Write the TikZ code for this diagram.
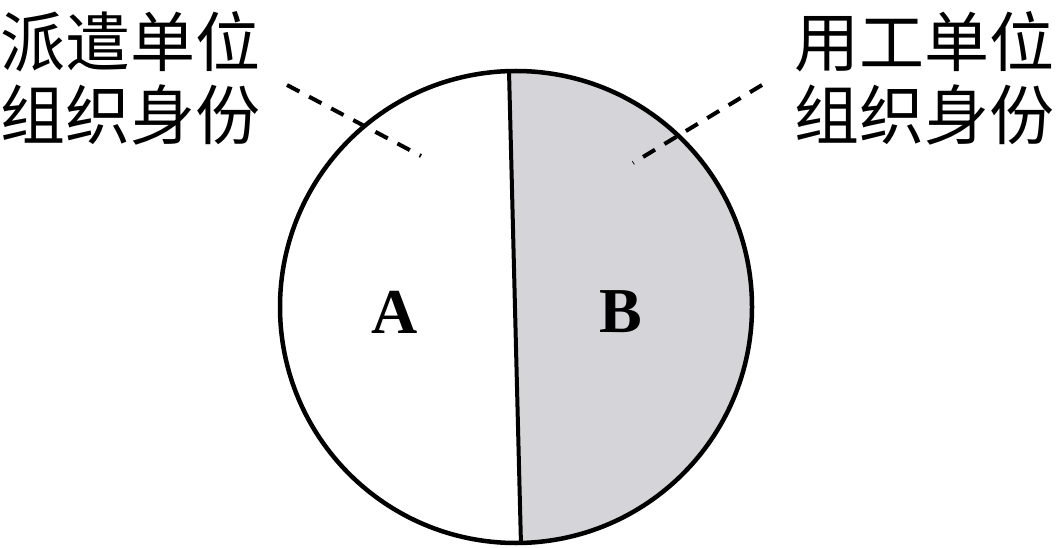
\documentclass[tikz,border=0pt]{standalone}
\usepackage{fontspec}
\usetikzlibrary{calc}
\setmainfont{Liberation Serif}
\newfontfamily\cjk{Noto Sans CJK SC}
\definecolor{shadeB}{RGB}{213,212,217}
\begin{document}
\begin{tikzpicture}[x=1pt,y=1pt,line width=4.5pt,
	lbl/.style={font=\cjk\fontsize{65}{73}\selectfont,align=left,inner sep=0pt},
	letter/.style={font=\bfseries\fontsize{64}{64}\selectfont,inner sep=0pt},
	lead/.style={dashed,line width=4pt,dash pattern=on 14pt off 11pt}]
	\def\r{236}
	\useasboundingbox (0,0) rectangle (1058,547);
	\coordinate (O) at (516,240);
	\coordinate (top) at ($(O)+(91.7:\r)$);
	\coordinate (bot) at ($(O)+(-88.8:\r)$);
	\fill[shadeB] (top) arc (91.7:-88.8:\r) -- cycle;
	\draw (O) circle (\r);
	\draw[line width=4pt] (top) -- (bot);
	\node[letter] (A) at (395,235) {A};
	\node[letter] (B) at (621,235) {B};
	\node[lbl] (pq) at (131,469) {派遣单位\\组织身份};
	\node[lbl] (yg) at (924,469) {用工单位\\组织身份};
	\coordinate (pqstart) at (287,462);
	\coordinate (pqend) at (421,391);
	\coordinate (ygstart) at (762,462);
	\coordinate (ygend) at (633,384);
	\draw[lead] (pqstart) -- (pqend);
	\draw[lead] (ygstart) -- (ygend);
\end{tikzpicture}
\end{document}
